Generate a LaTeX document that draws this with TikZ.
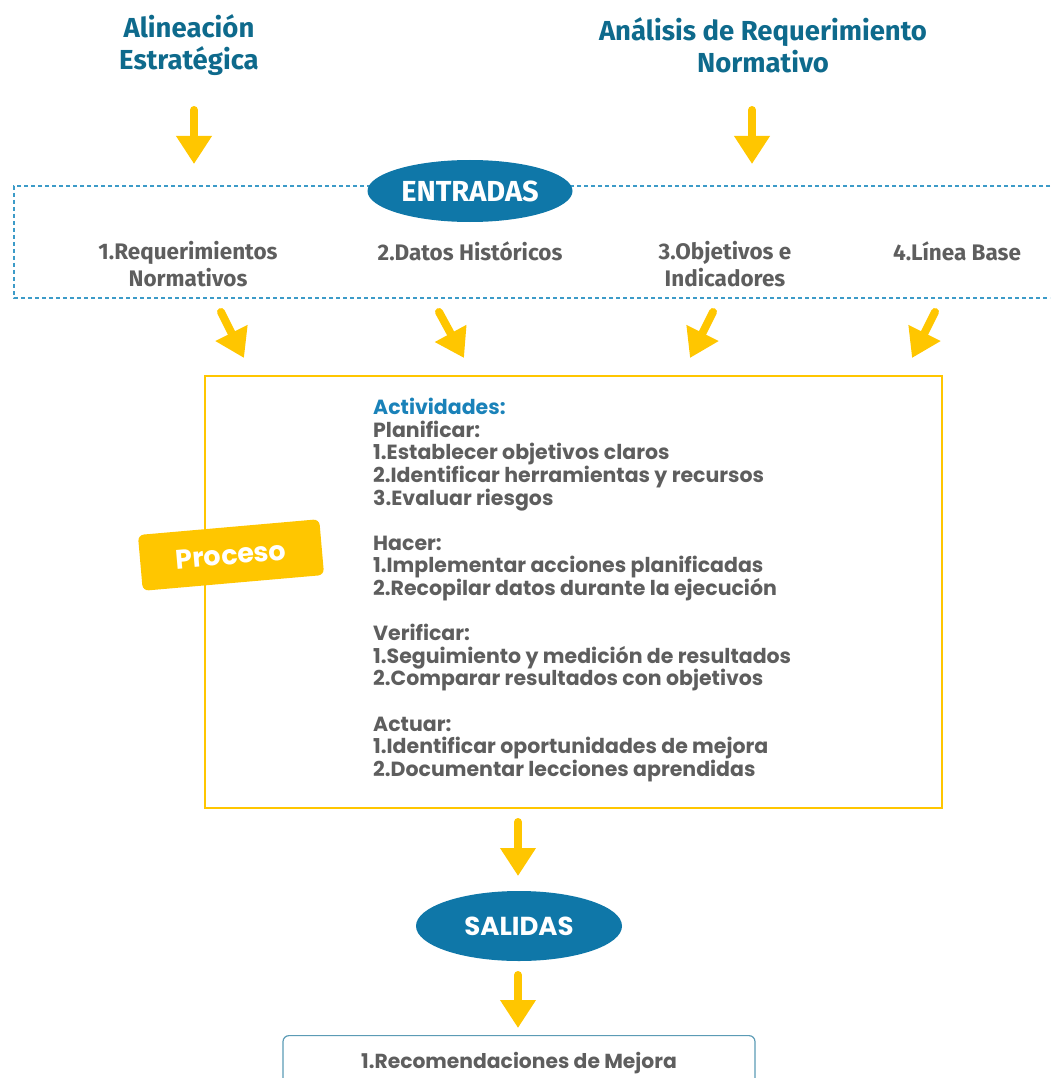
\documentclass[tikz,border=0pt]{standalone}
\usepackage{fontspec}
\setmainfont{Poppins}
\newfontfamily\condfont{Fira Sans}
\usetikzlibrary{shapes.geometric,arrows.meta,positioning}
\definecolor{tealtxt}{HTML}{0E6A8C}
\definecolor{ovalblue}{HTML}{0F77A8}
\definecolor{amarillo}{HTML}{FFC600}
\definecolor{grisTxt}{HTML}{5E5E5E}
\definecolor{dashblue}{HTML}{3C9BC8}
\definecolor{azulAct}{HTML}{1A82B9}
\definecolor{boxline}{HTML}{5B9BB5}

\begin{document}
\begin{tikzpicture}[x=1pt, y=-1pt,
  flecha/.style={amarillo, line width=8pt, line cap=round, -{Triangle[width=34pt,length=28pt]}},
  titulo/.style={font=\condfont\bfseries\fontsize{27.5}{32}\selectfont, text=tealtxt, align=center},
  entrada/.style={font=\condfont\bfseries\fontsize{22.5}{27}\selectfont, text=grisTxt, align=center},
  ovalo/.style={ellipse, fill=ovalblue, text=white, inner sep=0pt}]
\useasboundingbox (0,0) rectangle (1050,1078);

% titulos
\node[titulo] (alineacion) at (189,45) {Alineación\\Estratégica};
\node[titulo] (analisis) at (763,45) {Análisis de Requerimiento\\Normativo};

% entradas
\draw[dashblue, line width=1.5pt, dash pattern=on 4pt off 3pt] (1050,186) -- (14,186) -- (14,298) -- (1050,298);
\node[ovalo, minimum width=205pt, minimum height=62pt, font=\condfont\bfseries\fontsize{29}{32}\selectfont] (entradas) at (470,191) {ENTRADAS};
\node[entrada] (req) at (188,264) {1.Requerimientos\\Normativos};
\node[entrada] (datos) at (470,251) {2.Datos Históricos};
\node[entrada] (obj) at (725,264) {3.Objetivos e\\Indicadores};
\node[entrada] (linea) at (957,251) {4.Línea Base};

\coordinate (t1) at (194,110); \coordinate (t2) at (194,164);
\coordinate (t3) at (752,110); \coordinate (t4) at (752,164);
\draw[flecha] (t1) -- (t2);
\draw[flecha] (t3) -- (t4);

\coordinate (e1) at (221,312); \coordinate (f1) at (244,358);
\coordinate (e2) at (439,312); \coordinate (f2) at (464,358);
\coordinate (e3) at (713,312); \coordinate (f3) at (690,358);
\coordinate (e4) at (935,312); \coordinate (f4) at (912,358);
\foreach \i in {1,...,4}
  \draw[flecha] (e\i) -- (f\i);

% proceso
\node[draw=amarillo, line width=2.5pt, minimum width=737pt, minimum height=432pt] (proceso) at (573.5,592) {};
\node[anchor=north west, align=left, text=grisTxt, font=\bfseries\fontsize{20.5}{22.6}\selectfont, inner sep=0pt] (actividades) at (373,398) {%
  \textcolor{azulAct}{Actividades:}\\
  Planificar:\\
  1.Establecer objetivos claros\\
  2.Identificar herramientas y recursos\\
  3.Evaluar riesgos\\[22.6pt]
  Hacer:\\
  1.Implementar acciones planificadas\\
  2.Recopilar datos durante la ejecución\\[22.6pt]
  Verificar:\\
  1.Seguimiento y medición de resultados\\
  2.Comparar resultados con objetivos\\[22.6pt]
  Actuar:\\
  1.Identificar oportunidades de mejora\\
  2.Documentar lecciones aprendidas};
\node[fill=amarillo, rounded corners=6pt, rotate=5, minimum width=182pt, minimum height=56pt, text=white, font=\bfseries\fontsize{27}{30}\selectfont] (etiqueta) at (231,555) {Proceso};

% salidas
\node[ovalo, minimum width=206pt, minimum height=70pt, font=\bfseries\fontsize{26}{30}\selectfont] (salidas) at (519,926) {SALIDAS};
\node[draw=boxline, line width=1.2pt, rounded corners=6pt, anchor=north, minimum width=472pt, minimum height=54pt, text=grisTxt, font=\bfseries\fontsize{20.3}{24}\selectfont] (recom) at (519,1035) {1.Recomendaciones de Mejora};

\coordinate (s1) at (518,822); \coordinate (s2) at (518,876);
\coordinate (s3) at (518,975); \coordinate (s4) at (518,1028);
\draw[flecha] (s1) -- (s2);
\draw[flecha] (s3) -- (s4);
\end{tikzpicture}
\end{document}
